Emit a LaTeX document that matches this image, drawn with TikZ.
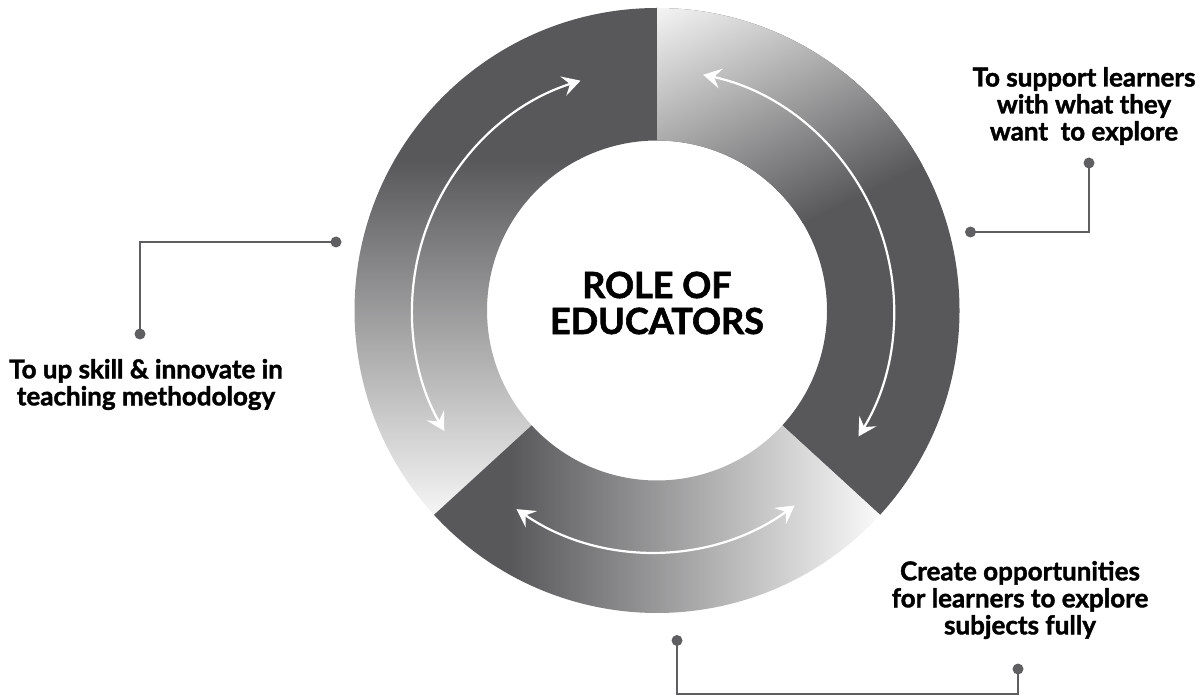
\documentclass[tikz,border=0pt]{standalone}
\usepackage{fontspec}
\setmainfont{Lato}[BoldFeatures={FakeBold=1.6}]
\usetikzlibrary{arrows.meta}
\definecolor{ringdark}{RGB}{88,88,90}
\definecolor{ringlight}{RGB}{250,250,250}
\definecolor{leadcol}{RGB}{95,95,97}

\begin{document}
\begin{tikzpicture}[x=1pt,y=1pt,
    loop arrow/.style={white, line width=2.2pt,
        {Stealth[length=18pt,width=20pt,inset=7pt]}-{Stealth[length=18pt,width=20pt,inset=7pt]}},
    leader/.style={leadcol, line width=2.5pt},
    role text/.style={font=\bfseries\fontsize{26}{27}\selectfont, align=center}]

    \useasboundingbox (0,0) rectangle (1204,697);

    % Upper left part of the ring (dark on top, light at the bottom)
    \begin{scope}
        \clip ([shift={(657,386.5)}]90:302.5) arc[start angle=90, end angle=222.5, radius=302.5]
            -- ([shift={(657,386.5)}]222.5:170) arc[start angle=222.5, end angle=90, radius=170] -- cycle;
        \fill[ringdark] (340,537) rectangle (660,697);
        \shade[top color=ringdark, bottom color=ringlight] (340,172) rectangle (660,537);
        \fill[ringlight] (340,0) rectangle (660,172);
    \end{scope}

    % Upper right part of the ring (light near the top, dark at the right)
    \begin{scope}
        \clip ([shift={(657,386.5)}]90:302.5) arc[start angle=90, end angle=-42.5, radius=302.5]
            -- ([shift={(657,386.5)}]-42.5:170) arc[start angle=-42.5, end angle=90, radius=170] -- cycle;
        \fill[ringdark] (640,0) rectangle (980,697);
        \begin{scope}[transform canvas={rotate around={26:(657,689)}}]
            \shade[top color=ringlight, bottom color=ringdark] (157,431) rectangle (1157,699);
            \fill[ringlight] (157,699) rectangle (1157,1000);
        \end{scope}
    \end{scope}

    % Lower part of the ring (dark at the left, light at the right)
    \begin{scope}
        \clip ([shift={(657,386.5)}]222.5:302.5) arc[start angle=222.5, end angle=317.5, radius=302.5]
            -- ([shift={(657,386.5)}]317.5:170) arc[start angle=317.5, end angle=222.5, radius=170] -- cycle;
        \fill[ringdark] (400,0) rectangle (510,300);
        \shade[left color=ringdark, right color=ringlight] (510,0) rectangle (880,300);
        \fill[ringlight] (880,0) rectangle (960,300);
    \end{scope}

    % White double arrows inside the ring
    \draw[loop arrow] ([shift={(653,386.5)}]107.5:241) arc[start angle=107.5, end angle=210, radius=241];
    \draw[loop arrow] ([shift={(653,386.5)}]78:241) arc[start angle=78, end angle=-31.5, radius=241];
    \draw[loop arrow] ([shift={(653,386.5)}]235.5:241) arc[start angle=235.5, end angle=306, radius=241];

    % Title in the middle
    \node[font=\bfseries\fontsize{36}{36}\selectfont, align=center] (title) at (657,394) {ROLE OF\\EDUCATORS};

    % Labels
    \node[role text] (upskill) at (146,312.5) {To up skill \& innovate in\\teaching methodology};
    \node[role text] (support) at (1084,591) {To support learners\\with what they\\want~ to explore};
    \node[role text] (create) at (1020,97) {Create opportunities\\for learners to explore\\subjects fully};

    % Leader lines
    \coordinate (upskill ring) at (336,455);
    \coordinate (upskill end) at (140,363);
    \coordinate (support ring) at (970.5,465);
    \coordinate (support end) at (1089,534);
    \coordinate (create ring) at (677,56.5);
    \coordinate (create bend) at (677,3);
    \coordinate (create end) at (1018,28);

    \draw[leader] (upskill ring) -| (upskill end);
    \draw[leader] (support ring) -| (support end);
    \draw[leader] (create ring) -- (create bend) -| (create end);

    \fill[leadcol] (upskill ring) circle (5.5);
    \fill[leadcol] (upskill end) circle (5.5);
    \fill[leadcol] (support ring) circle (5.5);
    \fill[leadcol] (support end) circle (5.5);
    \fill[leadcol] (create ring) circle (5.5);
    \fill[leadcol] (create end) circle (5.5);

\end{tikzpicture}
\end{document}
